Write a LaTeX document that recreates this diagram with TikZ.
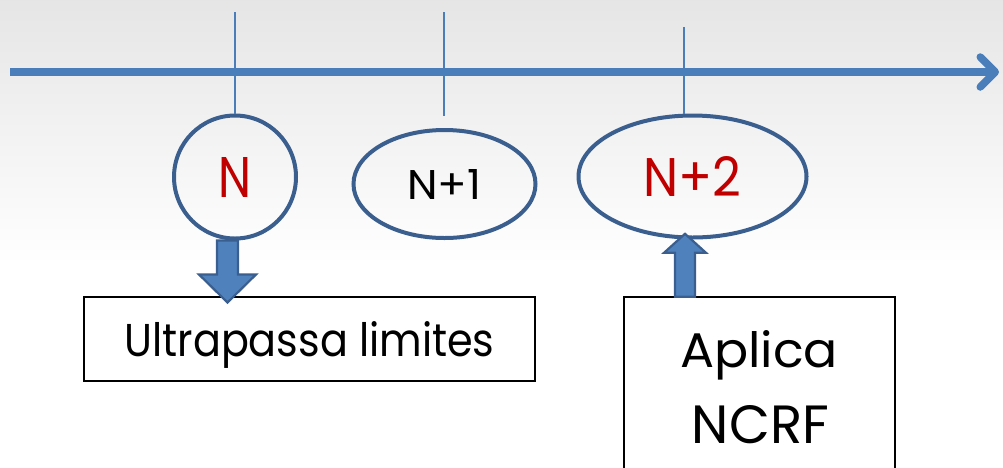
\documentclass[tikz,border=0pt]{standalone}
\usepackage{fontspec}
\setmainfont{Poppins}
\usepackage{graphicx}
\usetikzlibrary{arrows.meta,shapes.geometric,calc}
\definecolor{axisblue}{HTML}{4A7EBB}
\definecolor{rimblue}{HTML}{3A5F8E}
\definecolor{fillblue}{HTML}{4F81BD}
\definecolor{labelred}{HTML}{C00000}
\begin{document}
\begin{tikzpicture}[x=1pt,y=-1pt,
  stage/.style={ellipse, draw=rimblue, line width=4pt, inner sep=0pt},
  tickline/.style={draw=axisblue, line width=1.6pt},
  timeaxis/.style={draw=axisblue, line width=7.5pt,
    -{Straight Barb[length=15pt,width=30pt,round]}},
  blockarrow/.style={fill=fillblue, draw=rimblue, line width=2.2pt, line join=miter},
  labelbox/.style={draw=black, line width=2.4pt, rectangle, inner sep=0pt, text depth=0pt},
  plain/.style={inner sep=0pt, anchor=base}]
\useasboundingbox (0,0) rectangle (1003,467);
\clip (0,0) rectangle (1003,467);
% backdrop: pale grey fading to white
\fill[white] (0,0) rectangle (1003,467);
\shade[top color=black!10, bottom color=white] (0,0) rectangle (1003,265);

% time axis
\coordinate (a0) at (10,72);
\coordinate (a1) at (999,72);
\draw[timeaxis] (a0) -- (a1);

% periods
\node[stage, minimum width=122, minimum height=123, text=labelred] (n0) at (235,177)
  {\resizebox{33pt}{40pt}{N}};
\node[stage, minimum width=182, minimum height=108] (n1) at (444.5,184)
  {\resizebox{74pt}{30pt}{N+1}};
\node[stage, minimum width=228, minimum height=122, text=labelred] (n2) at (692.5,176.5)
  {\resizebox{98pt}{40pt}{N+2}};

% tick marks
\coordinate (t0) at (235,12);
\coordinate (t1) at (444,12);
\coordinate (t1b) at (444,116);
\coordinate (t2) at (684,27);
\draw[tickline] (t0) -- (n0.north);
\draw[tickline] (t1) -- (t1b);
\draw[tickline] (t2) -- (t2 |- n2.north);

% boxes
\node[labelbox, minimum width=451, minimum height=84] (limits) at (309.5,339)
  {\resizebox{370pt}{35pt}{Ultrapassa limites}};
\node[labelbox, minimum width=271, minimum height=200] (ncrf) at (759.5,397) {};
\node[plain] (ncrf1) at (759,367) {\resizebox{158pt}{37pt}{Aplica}};
\node[plain] (ncrf2) at (760.5,443) {\resizebox{137pt}{38pt}{NCRF}};

% block arrows
\draw[blockarrow, shift={($(n0.south)+(-7.5,0)$)}]
  (-10.5,0) -- (10.5,0) -- (10.5,34) -- (28.5,34) -- (0,62) -- (-28.5,34) -- (-10.5,34) -- cycle;
\draw[blockarrow, shift={($(ncrf.north)+(-74.5,1)$)}]
  (-10,0) -- (-10,-44) -- (-21,-44) -- (0,-63) -- (21,-44) -- (10,-44) -- (10,0) -- cycle;
\end{tikzpicture}
\end{document}
